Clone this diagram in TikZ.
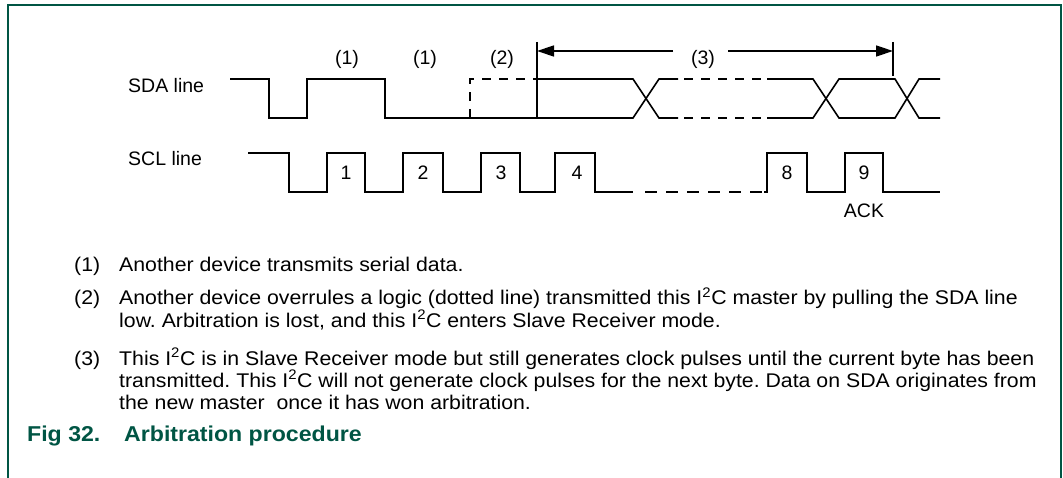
\documentclass[tikz,border=0pt]{standalone}
\usepackage{fontspec}
\setmainfont{Liberation Sans}
\usetikzlibrary{arrows.meta}
\definecolor{figgreen}{RGB}{0,85,68}
\frenchspacing
\newcommand{\wtext}[1]{\scalebox{1.075}[1]{#1}}
\tikzset{
  wave/.style={line width=1.6pt},
  wavedash/.style={wave, dash pattern=on 9pt off 8pt},
  lbl/.style={font=\fontsize{19.5}{22}\selectfont, inner sep=0pt},
  txt/.style={font=\fontsize{19.8}{22}\selectfont, inner sep=0pt, anchor=base west},
  figcap/.style={txt, font=\fontsize{21.5}{26}\selectfont\bfseries, text=figgreen},
  bigtip/.tip={Triangle[length=17pt,width=11pt]}
}
\begin{document}
\begin{tikzpicture}[x=1pt,y=-1pt]
    \useasboundingbox (0,0) rectangle (1063,478);
    \draw[figgreen, line width=1.4pt] (8,478) -- (8,5) -- (1061,5) -- (1061,478);
    \node[lbl, anchor=west] (sdalbl) at (128,86) {SDA line};
    \node[lbl, anchor=west] (scllbl) at (128,159) {SCL line};
    \draw[wave] (230,79) -- (269,79) -- (269,118) -- (307,118) -- (307,79) -- (385,79) -- (385,118) -- (537,118);
    \draw[wavedash] (470,118) -- (470,79) -- (537,79);
    \draw[wave] (537,42) -- (537,118);
    \draw[wave] (537,79) -- (633,79) -- (659,118) -- (678,118);
    \draw[wave] (537,118) -- (633,118) -- (659,79) -- (678,79);
    \draw[wavedash] (684,79) -- (767,79);
    \draw[wavedash] (684,118) -- (767,118);
    \draw[wave] (767,79) -- (813,79) -- (839,118) -- (895,118) -- (919,79) -- (940,79);
    \draw[wave] (767,118) -- (813,118) -- (839,79) -- (895,79) -- (919,118) -- (940,118);
    \draw[wave] (893,42) -- (893,76);
    \coordinate (arrL) at (537,51);
    \coordinate (arrR) at (893,51);
    \coordinate (arrLs) at (673,51);
    \coordinate (arrRs) at (728,51);
    \node[lbl] (p1a) at (347,59) {(1)};
    \node[lbl] (p1b) at (425,59) {(1)};
    \node[lbl] (p2) at (502,59) {(2)};
    \node[lbl] (p3) at (703,59) {(3)};
    \draw[line width=1.4pt, -bigtip] (arrLs) -- (arrL);
    \draw[line width=1.4pt, -bigtip] (arrRs) -- (arrR);
    \draw[wave] (248,153) -- (289,153) -- (289,192) -- (327,192) -- (327,153) -- (365,153) -- (365,192) -- (403,192) -- (403,153) -- (443,153) -- (443,192) -- (481,192) -- (481,153) -- (520,153) -- (520,192) -- (555,192) -- (555,153) -- (595,153) -- (595,192) -- (633,192);
    \draw[wave, dash pattern=on 12pt off 9pt] (645,192) -- (764,192);
    \draw[wave] (764,192) -- (767,192) -- (767,153) -- (807,153) -- (807,192) -- (845,192) -- (845,153) -- (883,153) -- (883,192) -- (940,192);
    \node[lbl] (c1) at (346,173) {1};
    \node[lbl] (c2) at (423,173) {2};
    \node[lbl] (c3) at (501,173) {3};
    \node[lbl] (c4) at (577,173) {4};
    \node[lbl] (c8) at (787,173) {8};
    \node[lbl] (c9) at (864,173) {9};
    \node[lbl] (ack) at (864,211) {ACK};
    \node[txt] (k1) at (74,272) {\wtext{(1)}};
    \node[txt] (t1) at (119,272) {\wtext{Another device transmits serial data.}};
    \node[txt] (k2) at (74,305) {\wtext{(2)}};
    \node[txt] (t2a) at (119,305) {\wtext{Another device overrules a logic (dotted line) transmitted this I\textsuperscript{2}C master by pulling the SDA line}};
    \node[txt] (t2b) at (119,327) {\wtext{low. Arbitration is lost, and this I\textsuperscript{2}C enters Slave Receiver mode.}};
    \node[txt] (k3) at (74,365) {\wtext{(3)}};
    \node[txt] (t3a) at (119,365) {\wtext{This I\textsuperscript{2}C is in Slave Receiver mode but still generates clock pulses until the current byte has been}};
    \node[txt] (t3b) at (119,387) {\wtext{transmitted. This I\textsuperscript{2}C will not generate clock pulses for the next byte. Data on SDA originates from}};
    \node[txt] (t3c) at (119,409) {\wtext{the new master\ \ once it has won arbitration.}};
    \node[figcap] (fig) at (27,441) {\wtext{Fig 32.}};
    \node[figcap] (figt) at (124,441) {\wtext{Arbitration procedure}};
\end{tikzpicture}
\end{document}
